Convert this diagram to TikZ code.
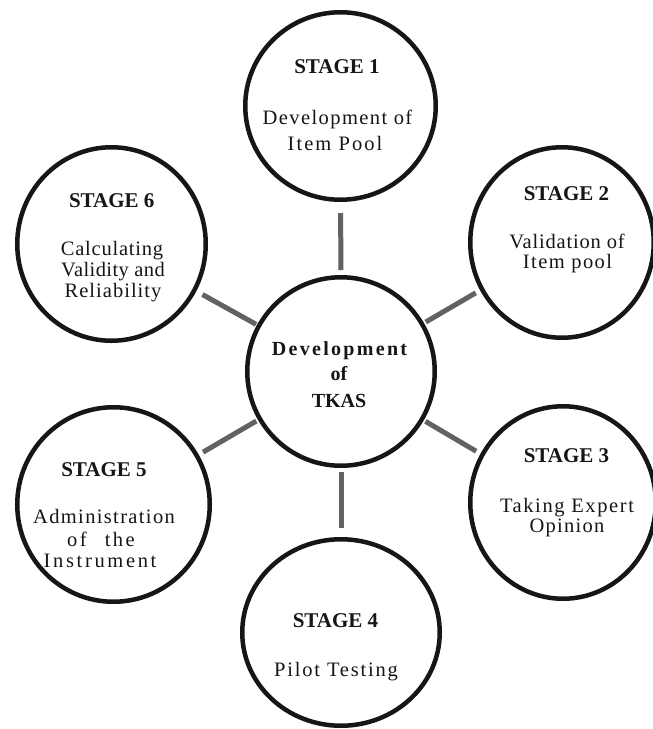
\documentclass[tikz,border=0pt]{standalone}
\usepackage{fontspec}
\setmainfont{Liberation Serif}
\usetikzlibrary{shapes.geometric}

\definecolor{ink}{HTML}{161616}
\definecolor{linkgray}{HTML}{626262}

% heading and body type
\newcommand\headfont{\fontsize{21}{21}\selectfont\bfseries}
\newcommand\bodyfont{\fontsize{20.5}{20.5}\selectfont}
\newcommand\hubfont{\fontsize{20}{20}\selectfont\bfseries}
% letter-spaced text: \lsp{amount}{text}
\newcommand\lsp[2]{{\addfontfeatures{LetterSpace=#1}#2}}

\begin{document}
\begin{tikzpicture}[x=1pt,y=-1pt,
  stage/.style={ellipse, draw=ink, line width=4.5pt, inner sep=0pt},
  link/.style={draw=linkgray, line width=5pt},
  head/.style={anchor=base, inner sep=0pt, text=ink, font=\headfont},
  body/.style={anchor=base, inner sep=0pt, text=ink, font=\bodyfont},
  hub/.style={anchor=base, inner sep=0pt, text=ink, font=\hubfont}]

\useasboundingbox[fill=white] (0,0) rectangle (653,729);

% circles
\node[stage, minimum width=190.5pt, minimum height=187.5pt] (s1) at (340.5,106) {};
\node[stage, minimum width=183.5pt, minimum height=190.5pt] (s2) at (562,242.5) {};
\node[stage, minimum width=188.5pt, minimum height=193.5pt] (s6) at (111.5,244) {};
\node[stage, minimum width=187.5pt, minimum height=188.5pt] (c)  at (341,371.5) {};
\node[stage, minimum width=192.5pt, minimum height=194.5pt] (s5) at (113.5,504.5) {};
\node[stage, minimum width=185.5pt, minimum height=192.5pt] (s3) at (563,502.5) {};
\node[stage, minimum width=197.5pt, minimum height=186.5pt] (s4) at (341,632.5) {};

% spokes from the hub
\draw[link, shorten <=5pt, shorten >=11pt] (c) -- (s1);
\draw[link, shorten <=4pt, shorten >=9pt]  (c) -- (s4);
\draw[link, shorten <=1pt, shorten >=7pt]  (c) -- (s6);
\draw[link, shorten <=2pt, shorten >=5pt]  (c) -- (s2);
\draw[link, shorten <=2pt, shorten >=5pt]  (c) -- (s5);
\draw[link, shorten <=2pt, shorten >=5pt]  (c) -- (s3);

% hub text
\node[hub] (c1) at (339.5,355) {\lsp{11.5}{Development}};
\node[hub] (c2) at (339,380) {of};
\node[hub] (c3) at (339,407) {TKAS};

% stage 1
\node[head] (h1) at (337,73) {STAGE 1};
\node[body] (t1a) at (337.5,124) {\lsp{6.9}{Development of}};
\node[body] (t1b) at (335,150) {\lsp{10}{Item Pool}};

% stage 2
\node[head] (h2) at (566.5,200) {STAGE 2};
\node[body] (t2a) at (567,248) {\lsp{4}{Validation of}};
\node[body] (t2b) at (567.5,268) {\lsp{7}{Item pool}};

% stage 3
\node[head] (h3) at (566.5,462) {STAGE 3};
\node[body] (t3a) at (567,512) {\lsp{7.8}{Taking Expert}};
\node[body] (t3b) at (567,532) {\lsp{6.3}{Opinion}};

% stage 4
\node[head] (h4) at (335.5,627) {STAGE 4};
\node[body] (t4a) at (336,676) {\lsp{8.7}{Pilot Testing}};

% stage 5
\node[head] (h5) at (104,476) {STAGE 5};
\node[body] (t5a) at (104,523) {\lsp{6.6}{Administration}};
\node[body] (t5b) at (101,546) {\lsp{12}{of\hspace{18pt}the}};
\node[body] (t5c) at (100,567) {\lsp{13}{Instrument}};

% stage 6
\node[head] (h6) at (111.7,207) {STAGE 6};
\node[body] (t6a) at (112,255) {\lsp{3.7}{Calculating}};
\node[body] (t6b) at (113,276) {\lsp{2}{Validity and}};
\node[body] (t6c) at (113,297) {\lsp{5}{Reliability}};
\end{tikzpicture}
\end{document}
